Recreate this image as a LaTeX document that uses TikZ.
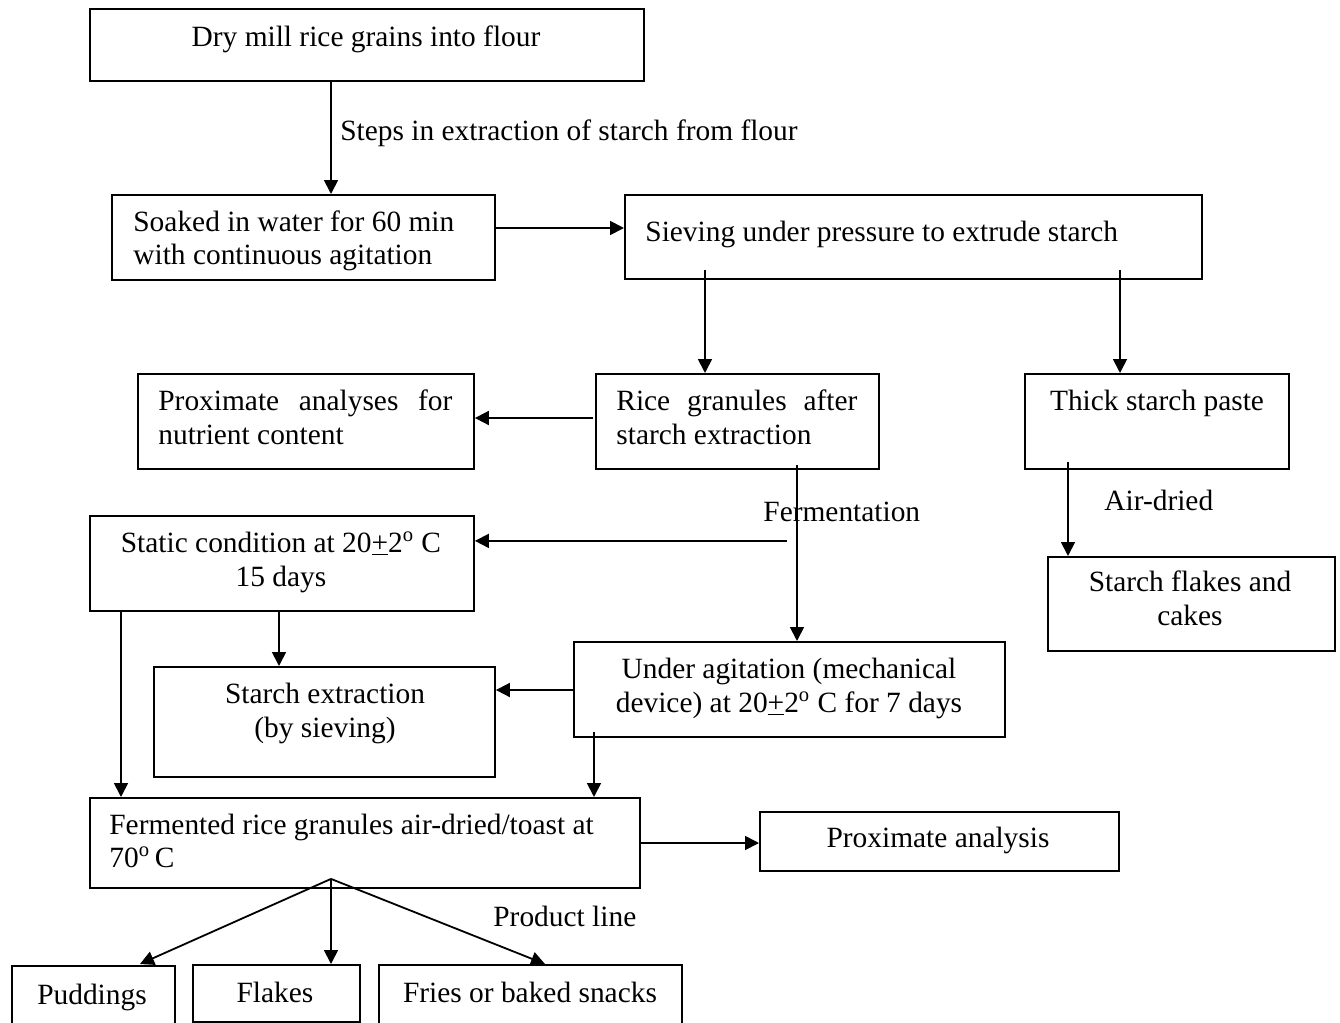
\documentclass[tikz,border=0pt]{standalone}
\usepackage{fontspec}
\setmainfont{Liberation Serif}
\usetikzlibrary{arrows.meta,calc}
\begin{document}
\begin{tikzpicture}[x=0.5pt,y=-0.5pt,
  box/.style={draw,line width=0.95pt,rectangle,inner sep=0pt,anchor=north west},
  txt/.style={inner sep=0pt,font=\fontsize{14.7}{16.5}\selectfont},
  arr/.style={line width=0.9pt,-{Triangle[length=7pt,width=7pt]}},
  ln/.style={line width=0.9pt}]
\useasboundingbox (0,0) rectangle (1340,1023);
% boxes
\node[box,minimum width=277pt,minimum height=36pt] (dry) at (89,8) {};
\node[box,minimum width=191.5pt,minimum height=42.5pt] (soak) at (111,194) {};
\node[box,minimum width=288.5pt,minimum height=42pt] (sieve) at (624,194) {};
\node[box,minimum width=168pt,minimum height=47.5pt] (prox) at (137,373) {};
\node[box,minimum width=141.5pt,minimum height=47.5pt] (rice) at (595,373) {};
\node[box,minimum width=132pt,minimum height=47.5pt] (thick) at (1024,373) {};
\node[box,minimum width=143.5pt,minimum height=47pt] (flakesc) at (1047,556) {};
\node[box,minimum width=192pt,minimum height=47.5pt] (static) at (89,515) {};
\node[box,minimum width=170.5pt,minimum height=55pt] (sext) at (153,666) {};
\node[box,minimum width=215.5pt,minimum height=47.5pt] (agit) at (573,641) {};
\node[box,minimum width=275pt,minimum height=45pt] (ferm) at (89,797) {};
\node[box,minimum width=179.5pt,minimum height=29.5pt] (proxa) at (759,811) {};
\node[box,minimum width=81.5pt,minimum height=35pt] (pud) at (11,965) {};
\node[box,minimum width=83.5pt,minimum height=28.5pt] (flk) at (192,964) {};
\node[box,minimum width=151.5pt,minimum height=35pt] (fries) at (378,964) {};
% texts
\node[txt,anchor=base] (tdry) at (366,46) {Dry mill rice grains into flour};
\node[txt,anchor=base west] (tsteps) at (340,140) {Steps in extraction of starch from flour};
\node[txt,anchor=base west] (tsoak1) at (133,231) {Soaked in water for 60 min};
\node[txt,anchor=base west] (tsoak2) at (133,264) {with continuous agitation};
\node[txt,anchor=base west] (tsieve) at (645,241) {Sieving under pressure to extrude starch};
\node[txt,anchor=base west] (tprox1) at (158,410) {\hbox to 147pt{Proximate\hfill analyses\hfill for}};
\node[txt,anchor=base west] (tprox2) at (158,444) {nutrient content};
\node[txt,anchor=base west] (trice1) at (616,410) {\hbox to 120.5pt{Rice\hfill granules\hfill after}};
\node[txt,anchor=base west] (trice2) at (616,444) {starch extraction};
\node[txt,anchor=base] (tthick) at (1157,410) {Thick starch paste};
\node[txt,anchor=base west] (tair) at (1104,510) {Air-dried};
\node[txt,anchor=base] (tfl1) at (1190,591) {Starch flakes and};
\node[txt,anchor=base] (tfl2) at (1190,625) {cakes};
\node[txt,anchor=base west] (tferm) at (763,521) {Fermentation};
\node[txt,anchor=base] (tst1) at (281,552) {Static condition at 20\underline{+}2\textsuperscript{o} C};
\node[txt,anchor=base] (tst2) at (281,586) {15 days};
\node[txt,anchor=base] (tse1) at (325,703) {Starch extraction};
\node[txt,anchor=base] (tse2) at (325,737) {(by sieving)};
\node[txt,anchor=base] (tag1) at (789,678) {Under agitation (mechanical};
\node[txt,anchor=base] (tag2) at (789,712) {device) at 20\underline{+}2\textsuperscript{o} C for 7 days};
\node[txt,anchor=base west] (tfe1) at (109,834) {Fermented rice granules air-dried/toast at};
\node[txt,anchor=base west] (tfe2) at (109,867) {70\textsuperscript{o}\,C};
\node[txt,anchor=base] (tpa) at (938,847) {Proximate analysis};
\node[txt,anchor=base west] (tprod) at (493,926) {Product line};
\node[txt,anchor=base] (tpud) at (92,1004) {Puddings};
\node[txt,anchor=base] (tflk) at (275,1002) {Flakes};
\node[txt,anchor=base] (tfri) at (530,1002) {Fries or baked snacks};
% connectors
\draw[arr] ($(dry.south west)+(242,0)$) -- ($(soak.north west)+(220,0)$);
\draw[arr] ($(soak.north east)+(0,34)$) -- ($(sieve.north west)+(0,34)$);
\draw[arr] ($(sieve.south west)+(81,-10)$) -- ($(rice.north west)+(110,0)$);
\draw[arr] ($(sieve.south west)+(496,-10)$) -- ($(thick.north west)+(96,0)$);
\draw[arr] ($(rice.north west)+(-2,45)$) -- ($(prox.north east)+(0,45)$);
\draw[arr] ($(thick.south west)+(44,-8)$) -- ($(flakesc.north west)+(21,0)$);
\draw[arr] ($(rice.south west)+(202,-5)$) -- ($(agit.north west)+(224,0)$);
\coordinate (fj) at ($(rice.south west)+(192,71)$);
\draw[arr] (fj) -- (fj -| static.east);
\draw[arr] ($(static.south west)+(190,0)$) -- ($(sext.north west)+(126,0)$);
\draw[arr] ($(agit.north west)+(0,49)$) -- ($(sext.north east)+(0,24)$);
\draw[arr] ($(static.south west)+(32,0)$) -- ($(ferm.north west)+(32,0)$);
\draw[arr] ($(agit.south west)+(21,-6)$) -- ($(ferm.north west)+(505,0)$);
\draw[arr] ($(ferm.north east)+(0,46)$) -- ($(proxa.north west)+(0,32)$);
\coordinate (fan) at ($(ferm.south west)+(242,-10)$);
\draw[arr] (fan) -- ($(pud.north west)+(129,-1)$);
\draw[arr] (fan) -- ($(flk.north west)+(139,0)$);
\draw[arr] (fan) -- ($(fries.north west)+(167,0)$);
\end{tikzpicture}
\end{document}
